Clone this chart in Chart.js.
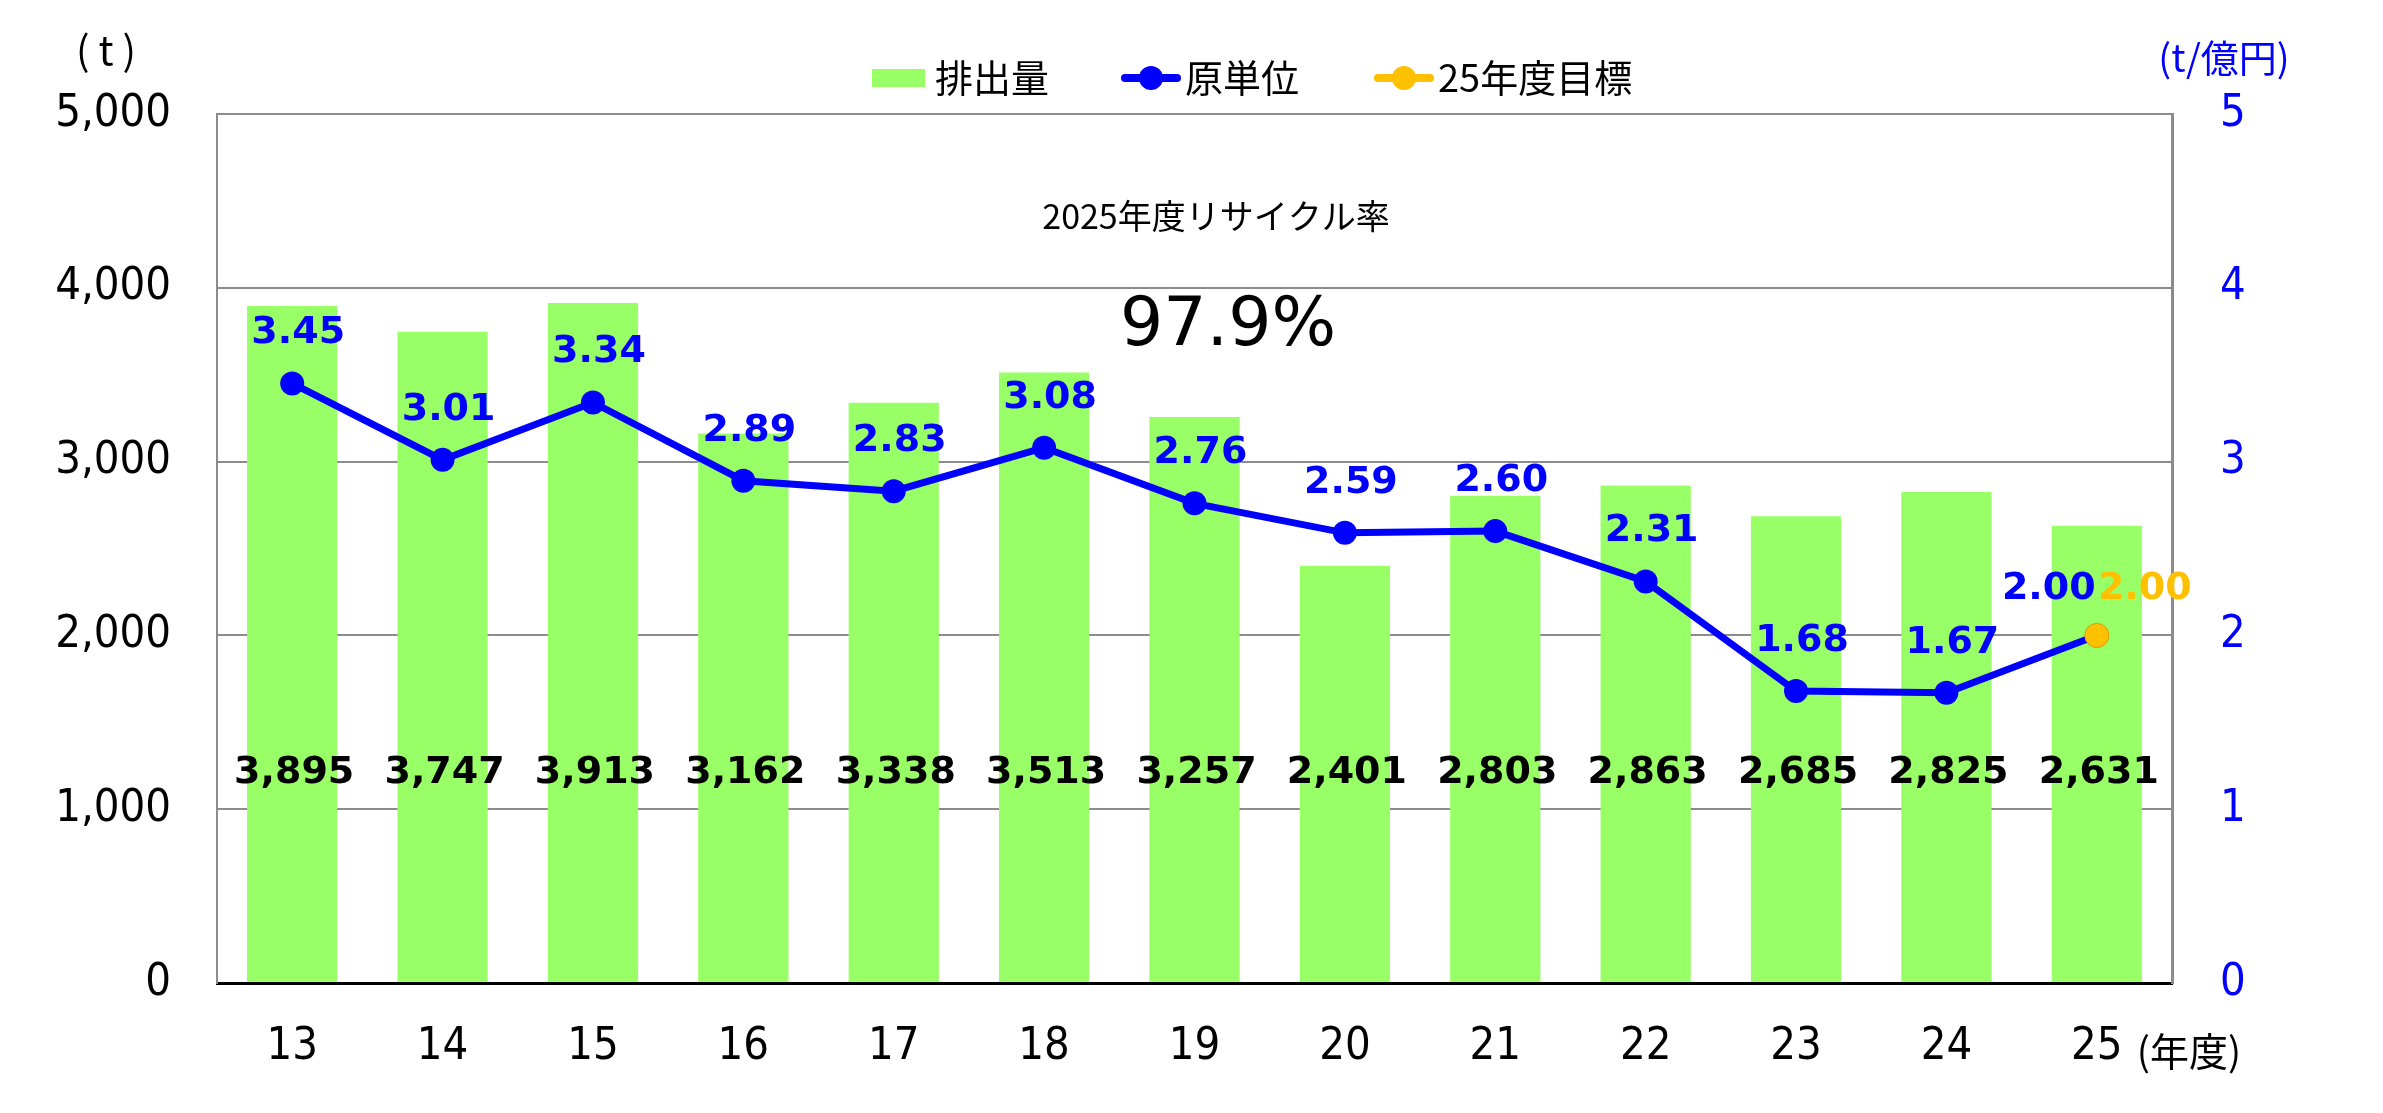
<!DOCTYPE html>
<html lang="ja">
<head>
<meta charset="utf-8">
<script src="https://cdn.jsdelivr.net/npm/chart.js@4"></script>
<style>
  body { margin: 0; background: #fff; }
  #wrap { width: 2383px; height: 1113px; }
</style>
</head>
<body>
<div id="wrap"><canvas id="myChart" width="2383" height="1113"></canvas></div>
<script>
// 年度
const years = ['13', '14', '15', '16', '17', '18', '19', '20', '21', '22', '23', '24', '25'];
// 排出量 (t)
const emission = [3895, 3747, 3913, 3162, 3338, 3513, 3257, 2401, 2803, 2863, 2685, 2825, 2631];
// 原単位 (t/億円)
const intensity = [3.45, 3.01, 3.34, 2.89, 2.83, 3.08, 2.76, 2.59, 2.60, 2.31, 1.68, 1.67, 2.00];
// 25年度目標
const target = [null, null, null, null, null, null, null, null, null, null, null, null, 2.00];

const leftTicks = [0, 1000, 2000, 3000, 4000, 5000];
const rightTicks = [0, 1, 2, 3, 4, 5];

const recycleTitle = '2025年度リサイクル率';
const recycleRate = '97.9%';

const GREEN = '#99FF66';
const BLUE = '#0000FF';
const ORANGE = '#FFC000';
const TICK_FONT = '"DejaVu Sans Condensed", "DejaVu Sans", sans-serif';
const JP_FONT = '"Noto Sans CJK JP", sans-serif';

// 数値ラベル
const valueLabels = {
    id: 'valueLabels',
    afterDatasetsDraw(chart) {
        const ctx = chart.ctx;
        const yScale = chart.scales.y;
        ctx.save();
        ctx.textAlign = 'center';
        ctx.textBaseline = 'middle';
        ctx.font = 'bold 38px "DejaVu Sans", sans-serif';

        // 棒の値は下の方にまとめて表示
        ctx.fillStyle = '#000';
        chart.getDatasetMeta(0).data.forEach((bar, i) => {
            ctx.fillText(emission[i].toLocaleString('en-US'), bar.x + 2, yScale.getPixelForValue(1205));
        });

        const last = years.length - 1;
        ctx.fillStyle = BLUE;
        chart.getDatasetMeta(1).data.forEach((pt, i) => {
            if (i === last) {
                ctx.fillText(intensity[i].toFixed(2), pt.x - 48, pt.y - 46);
            } else {
                ctx.fillText(intensity[i].toFixed(2), pt.x + 6, pt.y - 50);
            }
        });

        ctx.fillStyle = ORANGE;
        chart.getDatasetMeta(2).data.forEach((pt, i) => {
            if (target[i] === null) return;
            ctx.fillText(target[i].toFixed(2), pt.x + 48, pt.y - 46);
        });
        ctx.restore();
    }
};

// 凡例・単位・注記
const decorations = {
    id: 'decorations',
    afterDraw(chart) {
        const ctx = chart.ctx;
        ctx.save();
        ctx.textBaseline = 'middle';

        // 単位
        ctx.textAlign = 'center';
        ctx.fillStyle = '#000';
        ctx.font = '40px ' + JP_FONT;
        ctx.fillText('( t )', 106, 50);
        ctx.fillStyle = BLUE;
        ctx.font = '38px ' + JP_FONT;
        ctx.fillText('(t/億円)', 2224, 58);

        // 年度
        const xScale = chart.scales.x;
        ctx.fillStyle = '#000';
        ctx.textAlign = 'left';
        ctx.font = '39px ' + JP_FONT;
        ctx.fillText('(年度)', xScale.getPixelForValue(years.length - 1) + 40, 1051);

        // リサイクル率
        ctx.textAlign = 'center';
        ctx.font = '34px ' + JP_FONT;
        ctx.fillText(recycleTitle, 1216, 216);
        ctx.font = '68px "DejaVu Sans", sans-serif';
        ctx.fillText(recycleRate, 1228, 327);

        // 凡例
        const ly = 78;
        ctx.textAlign = 'left';
        ctx.font = '38px ' + JP_FONT;

        ctx.fillStyle = GREEN;
        ctx.fillRect(872, ly - 9, 53, 18);
        ctx.fillStyle = '#000';
        ctx.fillText(chart.data.datasets[0].label, 935, ly);

        [[1121, BLUE, 1], [1374, ORANGE, 2]].forEach(([x0, color, idx]) => {
            ctx.strokeStyle = color;
            ctx.lineWidth = 8;
            ctx.lineCap = 'round';
            ctx.beginPath();
            ctx.moveTo(x0 + 4, ly);
            ctx.lineTo(x0 + 56, ly);
            ctx.stroke();
            ctx.fillStyle = color;
            ctx.beginPath();
            ctx.arc(x0 + 30, ly, 12, 0, Math.PI * 2);
            ctx.fill();
            ctx.fillStyle = '#000';
            ctx.fillText(chart.data.datasets[idx].label, x0 + 64, ly);
        });
        ctx.restore();
    }
};

const ctx = document.getElementById('myChart').getContext('2d');
new Chart(ctx, {
    data: {
        labels: years,
        datasets: [
            {
                type: 'bar',
                label: '排出量',
                data: emission,
                backgroundColor: GREEN,
                barPercentage: 0.6,
                categoryPercentage: 1.0,
                yAxisID: 'y',
                order: 3
            },
            {
                type: 'line',
                label: '原単位',
                data: intensity,
                borderColor: BLUE,
                backgroundColor: BLUE,
                borderWidth: 7,
                pointRadius: 12,
                pointBackgroundColor: BLUE,
                pointBorderWidth: 0,
                tension: 0,
                yAxisID: 'y1',
                order: 2
            },
            {
                type: 'line',
                label: '25年度目標',
                data: target,
                borderColor: ORANGE,
                backgroundColor: ORANGE,
                showLine: false,
                pointRadius: 12,
                pointBackgroundColor: ORANGE,
                pointBorderColor: '#E0A800',
                pointBorderWidth: 1,
                yAxisID: 'y1',
                order: 1
            }
        ]
    },
    options: {
        responsive: false,
        animation: false,
        layout: { padding: { top: 114, left: 0, right: 0, bottom: 0 } },
        plugins: {
            legend: { display: false },
            tooltip: { enabled: false }
        },
        scales: {
            x: {
                offset: true,
                grid: { display: false, drawTicks: false },
                border: { display: true, color: '#000', width: 3 },
                ticks: {
                    color: '#000',
                    padding: 37,
                    font: { family: TICK_FONT, size: 45 }
                },
                afterFit: scale => { scale.height = 130; }
            },
            y: {
                position: 'left',
                min: 0,
                max: 5000,
                afterBuildTicks: scale => { scale.ticks = leftTicks.map(v => ({ value: v })); },
                grid: { color: '#8C8C8C', lineWidth: 2, drawTicks: false },
                border: { display: true, color: '#8C8C8C', width: 2 },
                ticks: {
                    color: '#000',
                    padding: 46,
                    font: { family: TICK_FONT, size: 45 },
                    callback: v => v.toLocaleString('en-US')
                },
                afterFit: scale => { scale.width = 217; }
            },
            y1: {
                position: 'right',
                min: 0,
                max: 5,
                afterBuildTicks: scale => { scale.ticks = rightTicks.map(v => ({ value: v })); },
                grid: { display: false, drawTicks: false },
                border: { display: true, color: '#8C8C8C', width: 3 },
                ticks: {
                    color: BLUE,
                    padding: 48,
                    font: { family: TICK_FONT, size: 45 }
                },
                afterFit: scale => { scale.width = 211; }
            }
        }
    },
    plugins: [valueLabels, decorations]
});
</script>
</body>
</html>
